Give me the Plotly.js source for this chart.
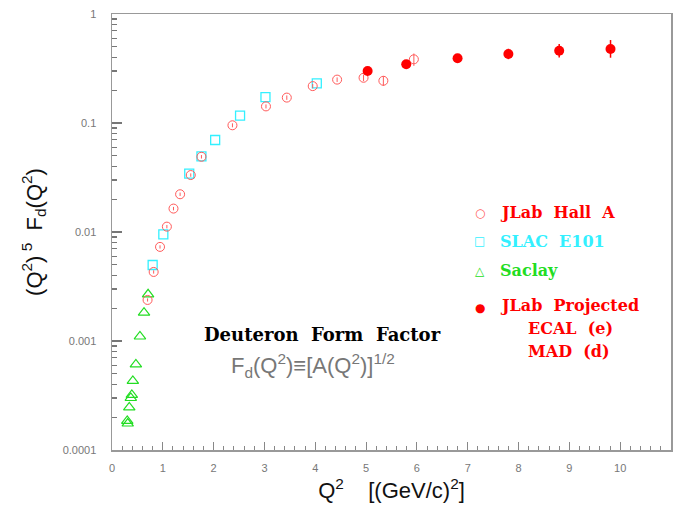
<!DOCTYPE html>
<html>
<head>
<meta charset="utf-8">
<script src="https://cdn.plot.ly/plotly-3.0.1.min.js"></script>
<style>body{margin:0;background:#fff;}#chart{width:674px;height:509px;}</style>
</head>
<body>
<div id="chart"></div>
<script>
// JLab Hall A (open circles)
const hallA_Q2 = [0.70, 0.82, 0.945, 1.08, 1.21, 1.34, 1.55, 1.76, 2.37, 3.03, 3.44, 3.95, 4.43, 4.95, 5.34, 5.94];
const hallA_F  = [0.00238, 0.0043, 0.0073, 0.0112, 0.0164, 0.0222, 0.0333, 0.049, 0.0953, 0.142, 0.171, 0.218, 0.25, 0.26, 0.244, 0.384];
const hallA_err = [0.00008, 0.00015, 0.00025, 0.0004, 0.0006, 0.0008, 0.0012, 0.0018, 0.004, 0.006, 0.008, 0.01, 0.012, 0.018, 0.025, 0.05];
// SLAC E101 (open squares)
const slac_Q2 = [0.80, 1.01, 1.52, 1.76, 2.03, 2.52, 3.02, 4.03];
const slac_F  = [0.00498, 0.0095, 0.0343, 0.0494, 0.0698, 0.1167, 0.173, 0.231];
// Saclay (open triangles)
const saclay_Q2 = [0.30, 0.31, 0.34, 0.37, 0.39, 0.41, 0.47, 0.55, 0.63, 0.71];
const saclay_F  = [0.000185, 0.000175, 0.000246, 0.00030, 0.00032, 0.00043, 0.00061, 0.0011, 0.00182, 0.00268];
// JLab projected (filled circles)
const proj_Q2 = [5.03, 5.79, 6.80, 7.80, 8.80, 9.81];
const proj_F  = [0.30, 0.346, 0.392, 0.43, 0.46, 0.477];
const proj_errPlus  = [0.012, 0.014, 0.018, 0.05, 0.07, 0.10];
const proj_errMinus = [0.012, 0.014, 0.018, 0.045, 0.06, 0.08];

// axis ticks
const xTickVals = [0,1,2,3,4,5,6,7,8,9,10,11];
const yTickVals = [0.0001, 0.001, 0.01, 0.1, 1];
const yTickText = ['0.0001', '0.001', '0.01', '0.1', '1'];

const RED_LIGHT = '#ff5a5a';
const CYAN = '#33f0ff';
const GREEN = '#22dd22';
const RED = '#ff0000';

const traces = [
  {x: saclay_Q2, y: saclay_F, type: 'scatter', mode: 'markers', name: 'Saclay',
   marker: {symbol: 'triangle-up-open', size: 10, color: GREEN, line: {width: 1.2, color: GREEN}}},
  {x: slac_Q2, y: slac_F, type: 'scatter', mode: 'markers', name: 'SLAC E101',
   marker: {symbol: 'square-open', size: 9, color: CYAN, line: {width: 1.3, color: CYAN}}},
  {x: hallA_Q2, y: hallA_F, type: 'scatter', mode: 'markers', name: 'JLab Hall A',
   error_y: {type: 'data', array: hallA_err, visible: true, color: RED_LIGHT, thickness: 1, width: 0},
   marker: {symbol: 'circle-open', size: 9, color: RED_LIGHT, line: {width: 1, color: RED_LIGHT}}},
  {x: proj_Q2, y: proj_F, type: 'scatter', mode: 'markers', name: 'JLab Projected',
   error_y: {type: 'data', array: proj_errPlus, arrayminus: proj_errMinus, visible: true, color: RED, thickness: 1.5, width: 0},
   marker: {symbol: 'circle', size: 10, color: RED}}
];

const serifB = {family: 'DejaVu Serif', size: 16};
const nb = '\u00a0';
const annotations = [
  // legend glyphs
  {xref:'paper', yref:'paper', x:0.658, y:0.5436, text:'○', showarrow:false, font:{family:'DejaVu Sans', size:12, color:RED_LIGHT}},
  {xref:'paper', yref:'paper', x:0.658, y:0.479, text:'□', showarrow:false, font:{family:'DejaVu Sans', size:12, color:CYAN}},
  {xref:'paper', yref:'paper', x:0.658, y:0.4106, text:'△', showarrow:false, font:{family:'DejaVu Sans', size:12, color:GREEN}},
  {xref:'paper', yref:'paper', x:0.658, y:0.305, text:'●', showarrow:false, font:{family:'DejaVu Sans', size:12, color:RED}},
  // legend labels
  {xref:'paper', yref:'paper', x:0.6905, y:0.5436, xanchor:'left', text:'<b>JLab'+nb+nb+'Hall'+nb+nb+'A</b>', showarrow:false, font:Object.assign({color:RED}, serifB)},
  {xref:'paper', yref:'paper', x:0.6905, y:0.479, xanchor:'left', text:'<b>SLAC'+nb+nb+'E101</b>', showarrow:false, font:Object.assign({color:CYAN}, serifB)},
  {xref:'paper', yref:'paper', x:0.6905, y:0.4106, xanchor:'left', text:'<b>Saclay</b>', showarrow:false, font:Object.assign({color:GREEN}, serifB)},
  {xref:'paper', yref:'paper', x:0.6905, y:0.305, xanchor:'left', text:'<b>JLab'+nb+nb+'Projected</b>', showarrow:false, font:Object.assign({color:RED}, serifB)},
  {xref:'paper', yref:'paper', x:0.7406, y:0.2523, xanchor:'left', text:'<b>ECAL'+nb+nb+'(e)</b>', showarrow:false, font:Object.assign({color:RED}, serifB)},
  {xref:'paper', yref:'paper', x:0.7406, y:0.1995, xanchor:'left', text:'<b>MAD'+nb+nb+'(d)</b>', showarrow:false, font:Object.assign({color:RED}, serifB)},
  // title block
  {xref:'paper', yref:'paper', x:0.376, y:0.236, text:'<b>Deuteron'+nb+nb+'Form'+nb+nb+'Factor</b>', showarrow:false, font:{family:'DejaVu Serif', size:18, color:'#000'}},
  {xref:'paper', yref:'paper', x:0.36, y:0.154, text:'F<sub>d</sub>(Q<sup>2</sup>)≡[A(Q<sup>2</sup>)]<sup>1/2</sup>', showarrow:false, font:{family:'Liberation Sans Narrow, Liberation Sans', size:22, color:'#777'}}
];

const layout = {
  width: 674, height: 509,
  margin: {l: 112, r: 3, t: 14, b: 59},
  paper_bgcolor: '#fff', plot_bgcolor: '#fff',
  showlegend: false,
  xaxis: {
    range: [0, 11], tickvals: xTickVals, ticks: 'inside', ticklen: 8, tickcolor: '#888', tickwidth: 1,
    minor: {dtick: 0.2, ticks: 'inside', ticklen: 4, tickcolor: '#888', showgrid: false},
    showgrid: false, zeroline: false, showline: true, linecolor: '#999', linewidth: 1.5, mirror: true,
    tickfont: {family: 'Liberation Sans', size: 11, color: '#777'}, ticklabelstandoff: 7,
    title: {text: 'Q<sup>2</sup>' + nb+nb+nb+nb + '[(GeV/c)<sup>2</sup>]', font: {family: 'Liberation Sans', size: 22, color: '#111'}, standoff: 10}
  },
  yaxis: {
    type: 'log', range: [-4, 0], tickvals: yTickVals, ticktext: yTickText,
    ticks: 'inside', ticklen: 10, tickcolor: '#777', tickwidth: 1.2,
    minor: {dtick: 'D1', ticks: 'inside', ticklen: 5, tickcolor: '#777', showgrid: false},
    showgrid: false, zeroline: false, showline: true, linecolor: '#999', linewidth: 1.5, mirror: true,
    tickfont: {family: 'Liberation Sans', size: 11, color: '#777'}, ticklabelstandoff: 12,
    title: {text: '(Q<sup>2</sup>)' + '\u2009' + '<sup>5</sup>' + nb+nb + 'F<sub>d</sub>(Q<sup>2</sup>)', font: {family: 'Liberation Sans', size: 22, color: '#111'}, standoff: 14}
  },
  annotations: annotations
};

Plotly.newPlot('chart', traces, layout, {displayModeBar: false, staticPlot: true});
</script>
</body>
</html>
